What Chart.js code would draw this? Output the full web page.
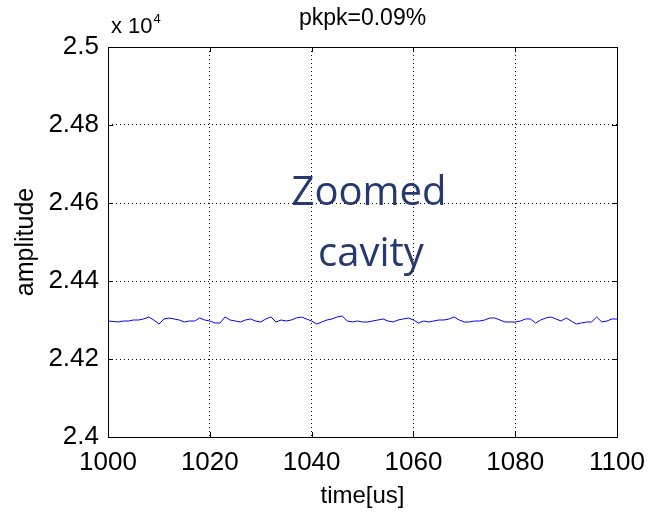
<!DOCTYPE html>
<html>
<head>
<meta charset="utf-8">
<script src="https://cdn.jsdelivr.net/npm/chart.js@4"></script>
<style>
    html, body { margin: 0; padding: 0; background: #ffffff; }
    #wrap { width: 655px; height: 521px; }
</style>
</head>
<body>
<div id="wrap"><canvas id="amp-chart"></canvas></div>
<script>
// sample times [us]
const times = [
    1000, 1001, 1002, 1003, 1004, 1005, 1006, 1007, 1008, 1009,
    1010, 1011, 1012, 1013, 1014, 1015, 1016, 1017, 1018, 1019,
    1020, 1021, 1022, 1023, 1024, 1025, 1026, 1027, 1028, 1029,
    1030, 1031, 1032, 1033, 1034, 1035, 1036, 1037, 1038, 1039,
    1040, 1041, 1042, 1043, 1044, 1045, 1046, 1047, 1048, 1049,
    1050, 1051, 1052, 1053, 1054, 1055, 1056, 1057, 1058, 1059,
    1060, 1061, 1062, 1063, 1064, 1065, 1066, 1067, 1068, 1069,
    1070, 1071, 1072, 1073, 1074, 1075, 1076, 1077, 1078, 1079,
    1080, 1081, 1082, 1083, 1084, 1085, 1086, 1087, 1088, 1089,
    1090, 1091, 1092, 1093, 1094, 1095, 1096, 1097, 1098, 1099,
    1100
];

// amplitude, in units of 10^4
const amplitude = [
    2.42974, 2.42962, 2.42949, 2.42974, 2.42974, 2.43000, 2.43000, 2.43026, 2.43077, 2.43000,
    2.42897, 2.43026, 2.43051, 2.43026, 2.43000, 2.42949, 2.42974, 2.42974, 2.43051, 2.43000,
    2.42974, 2.42923, 2.42923, 2.43077, 2.43000, 2.42974, 2.42949, 2.43000, 2.43026, 2.42974,
    2.42949, 2.43026, 2.43077, 2.42949, 2.43000, 2.42974, 2.43000, 2.43051, 2.43077, 2.43026,
    2.42974, 2.42897, 2.42949, 2.43000, 2.43026, 2.43077, 2.43103, 2.42974, 2.42949, 2.42974,
    2.42949, 2.42949, 2.42974, 2.43000, 2.43026, 2.42974, 2.42949, 2.43000, 2.43026, 2.43051,
    2.43000, 2.42923, 2.42974, 2.42949, 2.42974, 2.43000, 2.43000, 2.43026, 2.43077, 2.43000,
    2.42949, 2.42949, 2.42974, 2.42974, 2.43000, 2.43051, 2.43051, 2.43000, 2.42949, 2.42949,
    2.42949, 2.42974, 2.43026, 2.43026, 2.42923, 2.43000, 2.43051, 2.43077, 2.43026, 2.42974,
    2.43051, 2.42974, 2.42897, 2.42923, 2.42949, 2.42949, 2.43077, 2.42949, 2.42974, 2.43026,
    2.43026
];

const xTicks = [1000, 1020, 1040, 1060, 1080, 1100];
const xTickLabels = ["1000", "1020", "1040", "1060", "1080", "1100"];
const yTicks = [2.4, 2.42, 2.44, 2.46, 2.48, 2.5];
const yTickLabels = ["2.4", "2.42", "2.44", "2.46", "2.48", "2.5"];

const plotTitle = "pkpk=0.09%";
const yExponent = "4";
const noteLines = ["Zoomed", "cavity"];

const sans = "'Liberation Sans', Arial, sans-serif";

function labelFor(ticks, labels, value) {
    const idx = ticks.findIndex(v => Math.abs(v - value) < 1e-9);
    return idx >= 0 ? labels[idx] : "";
}

// frame, inward tick marks, title, exponent and note
const matlabDecor = {
    id: "matlabDecor",
    afterDraw(chart) {
        const ctx = chart.ctx;
        const area = chart.chartArea;
        const xs = chart.scales.x;
        const ys = chart.scales.y;
        const tickLen = 5;

        ctx.save();
        ctx.strokeStyle = "#000000";
        ctx.lineWidth = 1;
        ctx.setLineDash([]);
        ctx.beginPath();
        xTicks.forEach(t => {
            const px = Math.round(xs.getPixelForValue(t)) + 0.5;
            ctx.moveTo(px, area.bottom);
            ctx.lineTo(px, area.bottom - tickLen);
            ctx.moveTo(px, area.top);
            ctx.lineTo(px, area.top + tickLen);
        });
        yTicks.forEach(v => {
            const py = Math.round(ys.getPixelForValue(v)) + 0.5;
            ctx.moveTo(area.left, py);
            ctx.lineTo(area.left + tickLen, py);
            ctx.moveTo(area.right, py);
            ctx.lineTo(area.right - tickLen, py);
        });
        ctx.stroke();
        ctx.strokeRect(Math.round(area.left) + 0.5, Math.round(area.top) + 0.5,
            Math.round(area.right - area.left), Math.round(area.bottom - area.top));

        ctx.fillStyle = "#000000";
        ctx.textBaseline = "alphabetic";
        ctx.textAlign = "center";
        ctx.font = "23px " + sans;
        ctx.fillText(plotTitle, (area.left + area.right) / 2, 25);

        ctx.textAlign = "left";
        ctx.font = "22px " + sans;
        ctx.fillText("x 10", area.left + 3, 33);
        const w = ctx.measureText("x 10").width;
        ctx.font = "13px " + sans;
        ctx.fillText(yExponent, area.left + 4 + w, 23);

        ctx.fillStyle = "#25386f";
        ctx.textAlign = "center";
        ctx.font = "40px 'Open Sans', sans-serif";
        ctx.fillText(noteLines[0], 369, 205);
        ctx.fillText(noteLines[1], 371, 266);
        ctx.restore();
    }
};

const ctx = document.getElementById("amp-chart");

new Chart(ctx, {
    type: "line",
    data: {
        datasets: [{
            data: times.map((t, i) => ({ x: t, y: amplitude[i] })),
            borderColor: "#0000ff",
            borderWidth: 1,
            pointRadius: 0,
            fill: false,
            tension: 0
        }]
    },
    options: {
        responsive: true,
        maintainAspectRatio: false,
        animation: false,
        layout: {
            padding: { top: 47, right: 36, left: 0, bottom: 0 }
        },
        plugins: {
            legend: { display: false },
            tooltip: { enabled: false }
        },
        scales: {
            x: {
                type: "linear",
                min: 1000,
                max: 1100,
                afterBuildTicks: (scale) => {
                    scale.ticks = xTicks.map(v => ({ value: v }));
                },
                afterFit: (scale) => {
                    scale.height = 84;
                },
                grid: {
                    color: "#000000",
                    lineWidth: 1,
                    drawTicks: false
                },
                border: { display: false, dash: [1, 3] },
                ticks: {
                    color: "#000000",
                    padding: 10,
                    maxRotation: 0,
                    autoSkip: false,
                    font: { family: sans, size: 26 },
                    callback: (value) => labelFor(xTicks, xTickLabels, value)
                },
                title: {
                    display: true,
                    text: "time[us]",
                    color: "#000000",
                    padding: { top: 0, bottom: 10 },
                    font: { family: sans, size: 24 }
                }
            },
            y: {
                min: 2.4,
                max: 2.5,
                afterBuildTicks: (scale) => {
                    scale.ticks = yTicks.map(v => ({ value: v }));
                },
                afterFit: (scale) => {
                    scale.width = 108;
                },
                grid: {
                    color: "#000000",
                    lineWidth: 1,
                    drawTicks: false
                },
                border: { display: false, dash: [1, 3] },
                ticks: {
                    color: "#000000",
                    padding: 9,
                    autoSkip: false,
                    font: { family: sans, size: 26 },
                    callback: (value) => labelFor(yTicks, yTickLabels, value)
                },
                title: {
                    display: true,
                    text: "amplitude",
                    color: "#000000",
                    padding: { top: 11, bottom: 0 },
                    font: { family: sans, size: 25 }
                }
            }
        }
    },
    plugins: [matlabDecor]
});
</script>
</body>
</html>
